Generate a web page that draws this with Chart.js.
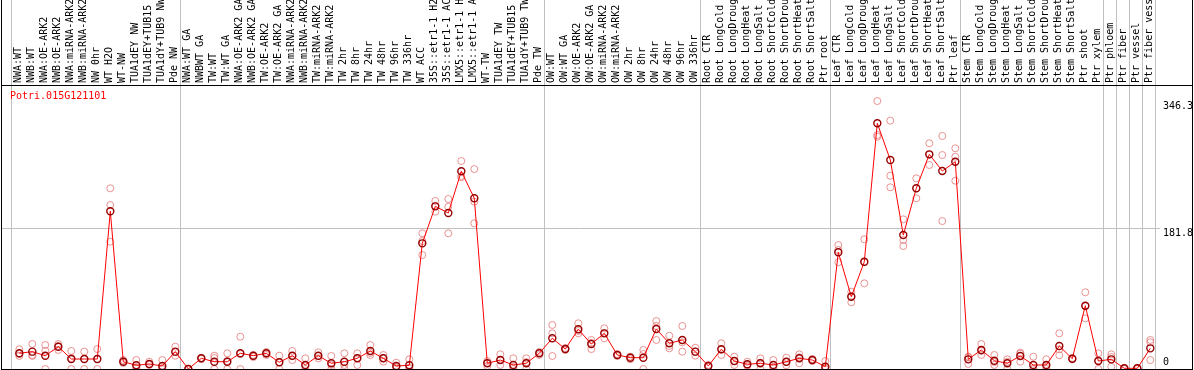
<!DOCTYPE html>
<html><head><meta charset="utf-8">
<script src="https://cdn.jsdelivr.net/npm/chart.js@4/dist/chart.umd.min.js"></script>
<style>html,body{margin:0;padding:0;background:#fff;overflow:hidden}#wrap{width:1194px;height:370px;position:relative}</style>
</head><body><div id="wrap"><canvas id="c" width="1194" height="370"></canvas></div>
<script>
const geneId = 'Potri.015G121101';
const categories = ['NWA:WT','NWB:WT','NWA:OE-ARK2','NWB:OE-ARK2','NWA:miRNA-ARK2','NWB:miRNA-ARK2','NW 0hr','WT H2O','WT-NW','TUA1dEY NW','TUA1dEY+TUB15 NW','TUA1dY+TUB9 NW','Pde NW',
'NWA:WT GA','NWBWT GA','TW:WT','TW:WT GA','NWA:OE-ARK2 GA','NWB:OE-ARK2 GA','TW:OE-ARK2','TW:OE-ARK2 GA','NWA:miRNA-ARK2 GA','NWB:miRNA-ARK2 GA','TW:miRNA-ARK2','TW:miRNA-ARK2 GA','TW 2hr','TW 8hr','TW 24hr','TW 48hr','TW 96hr','TW 336hr','WT ACC','35S::etr1-1 H2O','35S::etr1-1 ACC','LMX5::etr1-1 H2O','LMX5::etr1-1 ACC','WT-TW','TUA1dEY TW','TUA1dEY+TUB15 TW','TUA1dY+TUB9 TW','Pde TW',
'OW:WT','OW:WT GA','OW:OE-ARK2','OW:OE-ARK2 GA','OW:miRNA-ARK2','OW:miRNA-ARK2 GA','OW 2hr','OW 8hr','OW 24hr','OW 48hr','OW 96hr','OW 336hr',
'Root CTR','Root LongCold','Root LongDrought','Root LongHeat','Root LongSalt','Root ShortCold','Root ShortDrought','Root ShortHeat','Root ShortSalt','Ptr root',
'Leaf CTR','Leaf LongCold','Leaf LongDrought','Leaf LongHeat','Leaf LongSalt','Leaf ShortCold','Leaf ShortDrought','Leaf ShortHeat','Leaf ShortSalt','Ptr leaf',
'Stem CTR','Stem LongCold','Stem LongDrought','Stem LongHeat','Stem LongSalt','Stem ShortCold','Stem ShortDrought','Stem ShortHeat','Stem ShortSalt','Ptr shoot','Ptr xylem',
'Ptr phloem','Ptr fiber','Ptr vessel','Ptr fiber vessel'];
const groupStarts = [0, 13, 41, 53, 63, 73, 84, 85, 86, 87, 88];
const yTickValues = [0, 181.8, 346.3];
const means = [20.3,22.4,17.2,28.8,12.9,12.9,12.9,203.8,9.4,4.8,
6.5,3.9,22.4,0,13.8,9.4,9.4,20.3,17.2,20.3,
8.7,17.2,5.2,17.2,7.4,9.4,13.8,23.3,13.8,3.9,
4.8,162.4,210.2,201.6,255.5,220.6,7.4,11.6,5.2,7.4,
20.3,39.7,25.8,51.3,32.3,46.1,18.1,14.6,14.6,51.7,
33.2,37.5,22.4,3.9,25.5,10.3,6.1,7.4,5.2,9.4,
13.8,11.6,3.0,150.8,93.4,138.6,317.5,270.1,173.1,233.5,
277.4,255.8,267.9,12.5,24.6,10.7,7.4,16.8,5.2,5.2,
29.7,13.3,81.8,10.3,12.5,0.9,0.9,26.7];
const rep1 = [25.5,32.3,31.0,32.3,23.3,22.4,25.8,233.5,10.3,11.6,
9.4,11.6,28.8,0,14.2,17.2,20.3,41.7,18.1,22.0,
17.2,23.3,13.8,21.6,16.8,20.3,20.3,31.0,18.1,8.1,
12.5,175.4,217.1,219.7,268.8,258.4,10.3,19.0,13.8,13.8,
22.0,56.9,27.1,59.1,37.5,52.6,19.4,15.9,24.6,62.0,
43.0,55.6,27.5,5.2,33.2,15.9,9.4,13.8,11.6,14.6,
19.0,12.9,10.3,160.2,99.9,167.6,346.3,320.9,193.4,246.4,
291.7,301.1,285.2,15.9,32.3,18.1,12.5,21.1,15.9,12.5,
46.1,14.2,99.1,20.3,19.0,1.3,1.3,37.5];
const rep2 = [16.8,16.8,23.6,29.7,14.2,12.9,12.9,211.9,7.8,1.3,
6.5,1.3,17.2,0,14.2,14.2,10.3,19.4,15.5,19.4,
9.0,16.8,3.9,13.8,5.2,5.2,14.2,20.7,14.2,2.6,
1.3,165.4,210.6,209.7,249.4,216.2,7.8,11.6,2.6,9.0,
20.7,46.1,25.8,49.1,33.6,46.5,18.1,15.5,19.4,55.6,
29.7,34.5,22.4,3.9,24.9,10.3,5.2,8.1,2.6,9.0,
15.1,11.6,0,153.8,94.3,137.9,302.4,249.8,166.7,233.5,
276.9,276.5,274.3,15.1,23.3,9.0,9.4,19.8,0,3.0,
25.5,13.3,81.0,11.2,15.5,0.9,0.9,34.5];
const rep3 = [19.4,18.1,0,24.6,0,0,0,164.5,11.6,1.3,
5.2,0,22.0,0,12.9,0,0,0,16.8,18.1,
0,11.6,0,16.8,0,0,5.2,18.1,9.4,1.3,
1.3,147.3,203.3,175.4,247.7,188.3,3.9,5.2,0,0,
18.1,16.8,24.6,46.1,25.8,39.7,16.8,12.5,0,37.5,
26.7,22.4,17.2,2.6,18.1,5.2,3.9,0,1.3,4.8,
7.4,10.3,0,137.9,86.2,110.7,300.2,234.8,158.9,220.6,
263.6,191.2,243.3,6.5,18.1,5.2,0,9.4,0,0,
17.7,12.5,65.5,0,3.0,0,0,11.6];

const FONT = {family: "'DejaVu Sans Mono', monospace", size: 10};
const toXY = arr => arr.map((v, i) => ({x: i, y: v}));
const repStyle = {showLine: false, pointRadius: 3.5, pointBorderWidth: 1, pointBorderColor: 'rgba(228,120,120,0.8)', pointBackgroundColor: 'rgba(0,0,0,0)'};

const framePlugin = {
  id: 'frame',
  afterDraw(chart) {
    const {ctx, chartArea: a, width} = chart;
    ctx.save();
    ctx.strokeStyle = '#000'; ctx.lineWidth = 1;
    ctx.beginPath();
    ctx.moveTo(a.left + 0.5, 0); ctx.lineTo(a.left + 0.5, a.bottom + 1);
    ctx.moveTo(width - 1.5, 0); ctx.lineTo(width - 1.5, a.bottom + 1);
    ctx.moveTo(a.left, a.bottom + 0.5); ctx.lineTo(width - 1, a.bottom + 0.5);
    ctx.moveTo(a.right, a.top + 0.5); ctx.lineTo(width - 1, a.top + 0.5);
    ctx.stroke();
    ctx.fillStyle = '#ff0000';
    ctx.font = "10px 'DejaVu Sans Mono', monospace";
    ctx.textBaseline = 'middle'; ctx.textAlign = 'left';
    ctx.fillText(geneId, a.left + 9, a.top + 11.5);
    ctx.restore();
  }
};

new Chart(document.getElementById('c'), {
  type: 'line',
  data: {
    datasets: [
      {label: 'mean', data: toXY(means), borderColor: '#ff0000', borderWidth: 1, tension: 0,
       pointRadius: 3.5, pointBorderWidth: 1.4, pointBorderColor: 'rgb(150,0,0)', pointBackgroundColor: 'rgba(0,0,0,0)'},
      Object.assign({label: 'r1', data: toXY(rep1)}, repStyle),
      Object.assign({label: 'r2', data: toXY(rep2)}, repStyle),
      Object.assign({label: 'r3', data: toXY(rep3)}, repStyle)
    ]
  },
  options: {
    responsive: false, animation: false, devicePixelRatio: 1,
    layout: {autoPadding: false, padding: {left: 1, right: 1, top: 0, bottom: 1}},
    plugins: {legend: {display: false}, tooltip: {enabled: false}, title: {display: false}},
    scales: {
      x: {
        type: 'linear', position: 'top', min: -1.4077, max: 87.746,
        afterBuildTicks: s => {
          const t = categories.map((c, i) => ({value: i}));
          groupStarts.forEach(k => t.push({value: k - 0.6}));
          t.sort((a, b) => a.value - b.value);
          s.ticks = t;
        },
        afterFit: s => { s.height = 85; s.paddingLeft = 0; s.paddingRight = 0; },
        ticks: {autoSkip: false, minRotation: 90, maxRotation: 90, padding: -83, labelOffset: 11.5, font: FONT, color: '#000',
          callback: v => Number.isInteger(v) ? categories[v] : ''},
        grid: {color: c => (c.tick && !Number.isInteger(c.tick.value)) ? '#c0c0c0' : 'rgba(0,0,0,0)', tickLength: 85, lineWidth: 1},
        border: {display: true, color: '#000', width: 1}
      },
      y: {
        type: 'linear', position: 'right', min: 0, max: 367,
        afterBuildTicks: s => { s.ticks = yTickValues.map(v => ({value: v})); },
        afterFit: s => { s.width = 33; s.paddingTop = 0; s.paddingBottom = 0; },
        ticks: {font: FONT, color: '#000', padding: 3, labelOffset: 5,
          callback: v => v === 0 ? ['0', '', ''] : String(v)},
        grid: {color: c => (c.tick && c.tick.value === yTickValues[1]) ? '#c0c0c0' : 'rgba(0,0,0,0)', drawTicks: false, lineWidth: 1},
        border: {display: false}
      }
    }
  },
  plugins: [framePlugin]
});
</script></body></html>
